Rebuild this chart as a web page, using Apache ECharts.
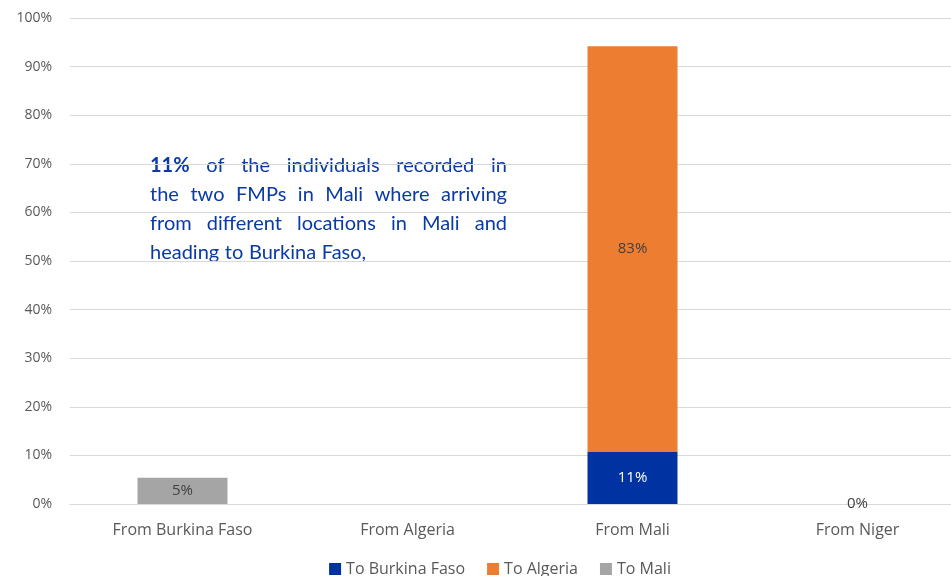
<!DOCTYPE html>
<html><head><meta charset="utf-8">
<script src="https://cdn.jsdelivr.net/npm/echarts@6/dist/echarts.min.js"></script>
<style>html,body{margin:0;padding:0;background:#fff;overflow:hidden;width:951px;height:576px}#c{width:1000px;height:576px}</style>
</head><body><div id="c"></div>
<script>
const categories = ['From Burkina Faso', 'From Algeria', 'From Mali', 'From Niger'];
const toBurkinaFaso = [null, null, 10.8, null];
const toAlgeria = [null, null, 83.4, null];
const toMali = [5.4, null, null, 0];
const yTicks = [0, 10, 20, 30, 40, 50, 60, 70, 80, 90, 100];
const noteLines = [
  ['11%', 'of', 'the', 'individuals', 'recorded', 'in'],
  ['the', 'two', 'FMPs', 'in', 'Mali', 'where', 'arriving'],
  ['from', 'different', 'locations', 'in', 'Mali', 'and'],
  ['heading', 'to', 'Burkina', 'Faso,']
];

const FONT = '"Open Sans", sans-serif';
const NOTE_FONT = 'Lato, sans-serif';
const NOTE_SIZE = 20;
const NOTE_COLOR = '#0A3AA6';
const ctx = document.createElement('canvas').getContext('2d');
function w(t, bold) { ctx.font = (bold ? 'bold ' : '') + NOTE_SIZE + 'px ' + NOTE_FONT; return ctx.measureText(t).width; }
const noteX = 150, noteW = 357, noteY0 = 156, noteLH = 29;
const graphics = [];
noteLines.forEach((words, li) => {
  const widths = words.map((t, i) => w(t, li === 0 && i === 0));
  const sum = widths.reduce((a, b) => a + b, 0);
  const last = li === noteLines.length - 1;
  const gap = last ? w(' ') * 1.1 : (noteW - sum) / (words.length - 1);
  let x = noteX;
  words.forEach((t, i) => {
    graphics.push({ type: 'text', left: x, top: noteY0 + li * noteLH,
      style: { text: t, font: (li === 0 && i === 0 ? 'bold ' : '') + NOTE_SIZE + 'px ' + NOTE_FONT, fill: NOTE_COLOR } });
    x += widths[i] + gap;
  });
});

const lbl = (color) => ({ show: true, position: 'inside', color: color, fontFamily: FONT, fontSize: 15,
  formatter: p => p.value == null ? '' : Math.round(p.value) + '%' });

const chart = echarts.init(document.getElementById('c'));
chart.setOption({
  animation: false,
  grid: { left: 70, top: 18, right: 30, height: 486 },
  legend: { bottom: -6, left: 'center', itemWidth: 12, itemHeight: 12, itemGap: 22, icon: 'rect',
    textStyle: { fontFamily: FONT, fontSize: 16, color: '#595959' },
    data: ['To Burkina Faso', 'To Algeria', 'To Mali'] },
  xAxis: { type: 'category', data: categories,
    axisLine: { lineStyle: { color: '#D9D9D9' } }, axisTick: { show: false },
    axisLabel: { fontFamily: FONT, fontSize: 16, color: '#595959', margin: 18 } },
  yAxis: { type: 'value', min: 0, max: 100, interval: 10,
    axisLabel: { fontFamily: FONT, fontSize: 14, color: '#595959', margin: 18, formatter: v => yTicks.includes(v) ? v + '%' : '' },
    splitLine: { lineStyle: { color: '#D9D9D9' } }, axisLine: { show: false }, axisTick: { show: false } },
  series: [
    { name: 'To Burkina Faso', type: 'bar', stack: 's', data: toBurkinaFaso, barWidth: '40%',
      itemStyle: { color: '#0033A1' }, label: lbl('#FFFFFF') },
    { name: 'To Algeria', type: 'bar', stack: 's', data: toAlgeria,
      itemStyle: { color: '#ED7D31' }, label: lbl('#404040') },
    { name: 'To Mali', type: 'bar', stack: 's', data: toMali,
      itemStyle: { color: '#A5A5A5' }, label: lbl('#404040') }
  ],
  graphic: graphics
});
</script></body></html>
